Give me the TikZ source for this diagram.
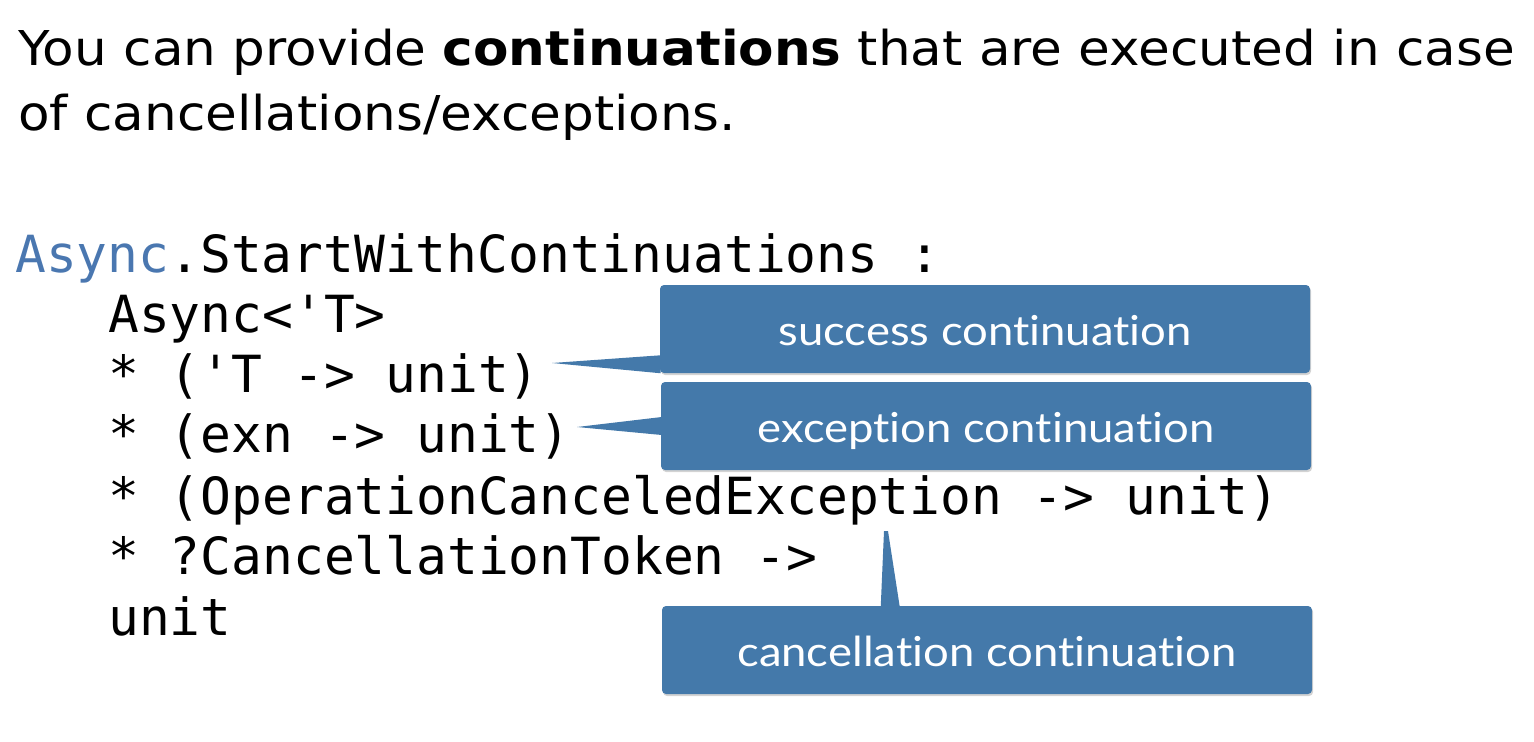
\documentclass[tikz,border=0pt]{standalone}
\usepackage{fontspec}
\setmainfont{DejaVu Sans}[FakeStretch=1.075]
\newfontfamily\codefont{DejaVu Sans Mono}
\newfontfamily\tipfont{Lato}[FakeStretch=1.1,Ligatures={NoCommon,NoDiscretionary},Contextuals=NoAlternate]
\usetikzlibrary{shadows,calc}
\definecolor{calloutblue}{HTML}{4479AA}
\definecolor{kwblue}{HTML}{4A77B0}
\begin{document}
\begin{tikzpicture}[x={(0.75pt,0)},y={(0,-0.75pt)},
  headline/.style={anchor=base west,inner sep=0pt,font=\fontsize{36}{43}\selectfont},
  codeline/.style={anchor=base west,inner sep=0pt,font=\codefont\fontsize{38.4}{46}\selectfont},
  callout/.style={fill=calloutblue,draw=none},
  calloutbox/.style={callout,rounded corners=3pt,minimum width=487.5pt,minimum height=66pt,
    inner sep=0pt,text height=24pt,text depth=0pt,text=white,font=\tipfont\fontsize{31}{37}\selectfont,
    drop shadow={opacity=0.35,shadow xshift=0.8pt,shadow yshift=-1.5pt}}
]
\useasboundingbox (0,0) rectangle (1534,742);

% heading
\node[headline] (h1) at (18,65) {You can provide \textbf{continuations} that are executed in case};
\node[headline] (h2) at (18,130) {of cancellations/exceptions.};

% signature
\node[codeline] (c0) at (15,272) {\textcolor{kwblue}{Async}.StartWithContinuations :};
\node[codeline] (c1) at (108,332) {Async<'T>};
\node[codeline] (c2) at (108,392) {* ('T -> unit)};
\node[codeline] (c3) at (108,452) {* (exn -> unit)};
\node[codeline] (c4) at (108,514) {* (OperationCanceledException -> unit)};
\node[codeline] (c5) at (108,574) {* ?CancellationToken ->};
\node[codeline] (c6) at (108,635) {unit};

% callout tails point at the signature
\coordinate (p1) at (552,363);
\coordinate (p2) at (577,427);
\coordinate (p3) at (886,531);

% callout boxes
\node[calloutbox] (b1) at (985,329) {success continuation};
\node[calloutbox] (b2) at (986,426) {exception continuation};
\node[calloutbox] (b3) at (987,650) {cancellation continuation};

\fill[callout] (p1) -- ($(b1.south west)+(1,-18)$) -- ($(b1.south west)+(1,0)$) -- cycle;
\fill[callout] (p2) -- ($(b2.west)+(1,-9)$) -- ($(b2.west)+(1,9)$) -- cycle;
\fill[callout] ($(p3)+(-2,0)$) -- ($(p3)+(2,0)$) -- ($(b3.north west)+(238,1)$) -- ($(b3.north west)+(219,1)$) -- cycle;
\end{tikzpicture}
\end{document}
